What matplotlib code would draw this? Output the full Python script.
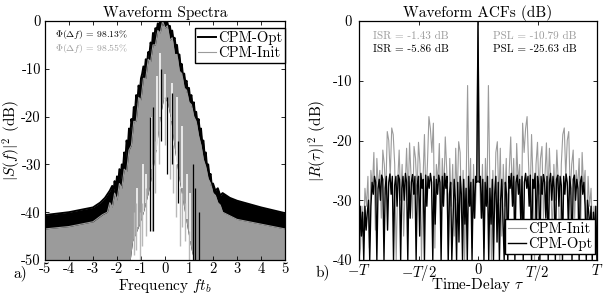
import numpy as np
import matplotlib
matplotlib.use("Agg")
import matplotlib.pyplot as plt

plt.rcParams.update({
    "font.family": "serif",
    "font.serif": ["cmr10"],
    "mathtext.fontset": "cm",
    "axes.unicode_minus": False,
    "axes.formatter.use_mathtext": False,
})

# ---------------- Spectrum data (dB) ----------------
opt_upper_f = [-5, -4.5, -4, -3.5, -3, -2.7, -2.5, -2.3, -2.2, -2.15, -2.1, -2.05, -2.0, -1.95, -1.9, -1.85,
               -1.8, -1.75, -1.7, -1.65, -1.6, -1.55, -1.5, -1.45, -1.4, -1.35, -1.3, -1.25, -1.2, -1.15,
               -1.1, -1.05, -1.0, -0.95, -0.9, -0.85, -0.8, -0.75, -0.7, -0.65, -0.6, -0.55, -0.5, -0.45,
               -0.4, -0.35, -0.3, -0.25, -0.2, -0.15, -0.1, -0.05, 0, 0.05, 0.1, 0.15, 0.2, 0.25, 0.3, 0.35,
               0.4, 0.45, 0.5, 0.55, 0.6, 0.65, 0.7, 0.75, 0.8, 0.85, 0.9, 0.95, 1.0, 1.05, 1.1, 1.15, 1.2,
               1.25, 1.3, 1.35, 1.4, 1.45, 1.5, 1.55, 1.6, 1.65, 1.7, 1.75, 1.8, 1.85, 1.9, 1.95, 2.0, 2.1,
               2.2, 2.3, 2.4, 2.7, 3.0, 3.5, 4.0, 4.5, 5]
opt_upper_db = [-40.6, -40.3, -40.0, -39.5, -39.0, -38.0, -37.0, -35.5, -34.5, -36, -33.5, -35, -32.5, -34, -31, -33,
                -30, -31, -27.5, -29, -25, -26.5, -22.5, -24, -20.5, -22, -18, -19, -15.5, -17,
                -13.5, -15, -12, -11, -9.5, -10.5, -8, -9, -6.5, -7, -4.5, -5.5, -2.5, -3.5,
                -1.5, -2, -0.5, -1, 0, -0.5, 0, -0.8, 0, -0.5, -0.3, -1.5, -1, -2.5, -2, -4,
                -3.5, -5.5, -5, -7.5, -7, -9.5, -9, -11.5, -11, -13, -12.5, -15, -14, -16.5, -15.5, -18, -17,
                -19.5, -19, -21.5, -20.5, -23, -22.5, -25.5, -25, -28, -27.5, -30.5, -30, -32.5, -32, -34.5, -34, -35.5,
                -35, -36.5, -36, -37, -37.6, -38.3, -39.0, -39.6, -40.2]

init_upper_f = [-5, -4, -3, -2.6, -2.4, -2.3, -2.2, -2.1, -2.0, -1.9, -1.8, -1.7, -1.6, -1.5, -1.4, -1.3,
                -1.2, -1.1, -1.0, -0.9, -0.8, -0.7, -0.6, -0.5, -0.4, -0.3, -0.2, -0.1, 0.0, 0.1, 0.2, 0.3,
                0.4, 0.5, 0.6, 0.7, 0.8, 0.9, 1.0, 1.1, 1.2, 1.3, 1.4, 1.5, 1.6, 1.7, 1.8, 1.9, 2.0, 2.1,
                2.2, 2.3, 2.4, 2.6, 3, 4, 5]
init_upper_db = [-43.5, -43.0, -42.0, -40.5, -40, -38, -39, -36, -37.5, -34, -35, -31, -31.5, -27, -26, -21,
                 -21, -16, -16.5, -12, -12, -8, -8.5, -5, -5, -2, -2.5, 0, -1.5, -1, -4, -3.5,
                 -7, -7, -10.5, -11, -14, -14.5, -17, -17.5, -20, -21, -24, -26, -29, -30.5, -33, -34, -36, -36.5,
                 -38, -38.5, -40, -40.5, -41.5, -42.5, -43.5]

null_f = [-5, -1.45, -1.35, -1.1, -0.9, -0.7, -0.5, -0.35, -0.2, -0.05, 0.1, 0.25, 0.4, 0.55, 0.75, 0.95, 1.1, 1.2, 5]
null_db = [-50, -50, -46, -43, -40, -36, -31, -26, -20, -16, -17, -21, -27, -32, -38, -44, -48, -50, -50]

# deep nulls cutting through the main lobe: (frequency, lowest dB, highest dB)
slit_f = [-1.15, -0.9, -0.8, -0.6, -0.35, -0.2, 0.0, 0.28, 0.49, 0.7, 0.9, 1.05]
slit_lo = [-43, -40, -38, -31, -27, -20, -17, -21, -30, -35, -41.5, -46]
slit_hi = [-35, -30, -32, -20, -11.6, -6.7, -11, -13, -15.8, -22, -32, -36]

# spikes reaching into the nulls: (frequency, lowest dB, highest dB)
opt_spike_f = [-0.63, -0.49, -0.15, 0.08, 0.3, 0.54, 1.17, 1.25, 1.4]
opt_spike_lo = [-44, -44, -25, -32, -30, -38, -50, -50, -50]
opt_spike_hi = [-20, -18, -10, -16, -15, -25, -30, -35, -40]
init_spike_f = [-1.3, -1.2, -1.05, -0.95, -0.8, -0.55, -0.4, -0.25, 0.0, 0.2, 0.35, 0.45, 0.63, 0.7, 0.85, 1.0]
init_spike_lo = [-49, -48, -50, -47, -45, -44, -36, -30, -26, -33, -36, -41, -47, -43, -46, -50]
init_spike_hi = [-40, -38, -40, -38, -35, -30, -25, -20, -16, -20, -26, -30, -35, -36, -38, -44]

# ---------------- ACF data (dB), tau >= 0 half ----------------
init_acf_half = [0, -26, -33, -24, -38, -23, -30, -10.8, -28, -40, -25, -33, -22, -20.2, -30, -21.3,
                 -36, -24, -31, -23, -40, -25, -19.4, -29, -23, -34, -20.5, -27, -24, -38, -17.1, -22,
                 -18, -16, -24, -30, -19, -27, -40, -24, -20.3, -29, -23, -21, -33, -26, -20.4, -30,
                 -21.3, -28, -36, -24, -30, -21.6, -27, -40, -24, -19, -17.9, -26, -20, -18.5, -29, -24,
                 -21.6, -33, -25, -28, -23, -35, -22, -28, -25, -38, -26, -31, -28, -36, -31, -38, -40]
opt_acf_half = [0, -27, -26, -33, -26.5, -40, -27, -31, -26, -40, -28, -34, -26.5, -40, -29, -26, -37, -27,
                -40, -30, -26.5, -33, -40, -27, -29, -40, -26, -28, -25.5, -31, -26, -40, -27, -25.8,
                -29, -26.5, -34, -26, -40, -27, -25.5, -28, -26, -31, -25.8, -40, -26.5, -28, -25.5, -36,
                -26, -27.5, -40, -26, -29, -25.7, -27, -33, -26, -40, -27, -25.5, -30, -26, -28, -40,
                -26.5, -25.8, -31, -26, -27.5, -40, -26, -29, -25.6, -27, -35, -26, -28, -40, -26.5, -25.8,
                -30, -26.5, -28, -40, -27, -26, -29, -27, -31, -40, -30, -32, -35, -31, -40, -32, -36, -31, -40]

tau_init_half = np.linspace(0, 1, len(init_acf_half))
tau_opt_half = np.linspace(0, 1, len(opt_acf_half))
tau_init = np.concatenate([-tau_init_half[::-1], tau_init_half[1:]])
acf_init = np.concatenate([np.array(init_acf_half)[::-1], np.array(init_acf_half)[1:]])
tau_opt = np.concatenate([-tau_opt_half[::-1], tau_opt_half[1:]])
acf_opt = np.concatenate([np.array(opt_acf_half)[::-1], np.array(opt_acf_half)[1:]])

BLACK = "black"
GREY = "#9b9b9b"
LIGHT = "#b8b8b8"

fig = plt.figure(figsize=(6.04, 2.94), dpi=100)
ax1 = fig.add_axes([45 / 604, 34 / 294, 240 / 604, 239 / 294])
ax2 = fig.add_axes([359 / 604, 34 / 294, 238 / 604, 239 / 294])

# ---- left panel ----
grid = np.union1d(np.union1d(opt_upper_f, init_upper_f), null_f)
o_up = np.interp(grid, opt_upper_f, opt_upper_db)
i_up = np.interp(grid, init_upper_f, init_upper_db)
nl = np.interp(grid, null_f, null_db)
ax1.fill_between(grid, nl, o_up, color=BLACK, lw=0)
ax1.plot(opt_upper_f, opt_upper_db, color=BLACK, lw=1.4, label="CPM-Opt")
ax1.fill_between(grid, nl, i_up, color=GREY, lw=0)
ax1.plot(init_upper_f, init_upper_db, color=GREY, lw=0.8, label="CPM-Init")
ax1.vlines(slit_f, slit_lo, slit_hi, color="white", lw=1.1)
ax1.vlines(init_spike_f, init_spike_lo, init_spike_hi, color=LIGHT, lw=1.0)
ax1.vlines(opt_spike_f, opt_spike_lo, opt_spike_hi, color=BLACK, lw=0.9)

ax1.set_xlim(-5, 5)
ax1.set_ylim(-50, 0)
ax1.set_xticks(np.arange(-5, 6, 1))
ax1.set_yticks(np.arange(-50, 1, 10))
ax1.set_title("Waveform Spectra", fontsize=11, pad=3)
ax1.set_xlabel(r"Frequency $ft_b$", fontsize=11, va="top")
ax1.xaxis.set_label_coords(0.5, -0.07)
ax1.set_ylabel(r"$|S(f)|^2$ (dB)", fontsize=11)
ax1.yaxis.set_label_coords(-0.092, 0.5)
leg1 = ax1.legend(loc="upper right", bbox_to_anchor=(1.0, 0.97), borderaxespad=0, fontsize=10.5,
                  fancybox=False, framealpha=1, edgecolor="black", handlelength=1.2,
                  handletextpad=0.15, borderpad=0.2, labelspacing=0.1)
leg1.get_frame().set_linewidth(1.0)
ax1.text(0.04, 0.942, r"$\Phi(\Delta f)$ = 98.13%", transform=ax1.transAxes,
         fontsize=7, color=BLACK, va="center")
ax1.text(0.04, 0.885, r"$\Phi(\Delta f)$ = 98.55%", transform=ax1.transAxes,
         fontsize=7, color=GREY, va="center")

# ---- right panel ----
ax2.plot(tau_init, acf_init, color=GREY, lw=0.8, label="CPM-Init")
ax2.plot(tau_opt, acf_opt, color=BLACK, lw=1.0, label="CPM-Opt")
ax2.set_xlim(-1, 1)
ax2.set_ylim(-40, 0)
ax2.set_xticks([-1, -0.5, 0, 0.5, 1])
ax2.set_xticklabels([r"$-T$", r"$-T/2$", "0", r"$T/2$", r"$T$"])
ax2.set_yticks(np.arange(-40, 1, 10))
ax2.set_title("Waveform ACFs (dB)", fontsize=11, pad=3)
ax2.set_xlabel(r"Time-Delay $\tau$", fontsize=11, va="top")
ax2.xaxis.set_label_coords(0.5, -0.067)
ax2.set_ylabel(r"$|R(\tau)|^2$ (dB)", fontsize=11)
ax2.yaxis.set_label_coords(-0.125, 0.5)
leg2 = ax2.legend(loc="lower right", bbox_to_anchor=(0.992, 0.025), borderaxespad=0, fontsize=10.5,
                  fancybox=False, framealpha=1, edgecolor="black", handlelength=1.2,
                  handletextpad=0.15, borderpad=0.2, labelspacing=0.1)
leg2.get_frame().set_linewidth(1.0)
ax2.text(0.06, 0.935, "ISR = -1.43 dB", transform=ax2.transAxes, fontsize=8, color=GREY, va="center")
ax2.text(0.06, 0.88, "ISR = -5.86 dB", transform=ax2.transAxes, fontsize=8, color=BLACK, va="center")
ax2.text(0.565, 0.935, "PSL = -10.79 dB", transform=ax2.transAxes, fontsize=8, color=GREY, va="center")
ax2.text(0.565, 0.88, "PSL = -25.63 dB", transform=ax2.transAxes, fontsize=8, color=BLACK, va="center")

for ax in (ax1, ax2):
    ax.tick_params(direction="in", top=True, right=True, length=3, width=0.6, labelsize=10.5, pad=3)
    for s in ax.spines.values():
        s.set_linewidth(0.9)
ax1.tick_params(axis="x", pad=2)
ax2.tick_params(axis="x", pad=2.5)
ax2.tick_params(axis="y", pad=5)

fig.text(13 / 604, 1 - 273 / 294, "a)", fontsize=11, va="center", ha="left")
fig.text(316 / 604, 1 - 272 / 294, "b)", fontsize=11, va="center", ha="left")

fig.savefig("out.png", dpi=100)
